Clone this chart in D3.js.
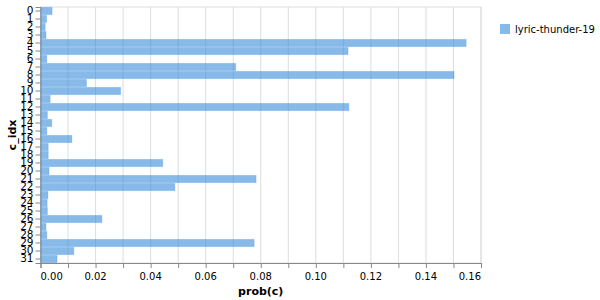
<!DOCTYPE html>
<html>
<head>
<meta charset="utf-8">
<script src="https://cdn.jsdelivr.net/npm/d3@7"></script>
<style>
  body { margin: 0; background: #fff; }
  svg { font-family: "DejaVu Sans", sans-serif; }
</style>
</head>
<body>
<script>
// Chart size and margins
const width = 600;
const height = 300;
const margin = { top: 7, right: 119, bottom: 37, left: 40.5 };

// Data
const categories = d3.range(32).map(String);
const probs = [
  0.0042, 0.0022, 0.0017, 0.0020, 0.1546, 0.1117, 0.0023, 0.0709,
  0.1502, 0.0167, 0.0291, 0.0035, 0.1120, 0.0025, 0.0041, 0.0023,
  0.0114, 0.0028, 0.0028, 0.0444, 0.0031, 0.0783, 0.0488, 0.0027,
  0.0024, 0.0025, 0.0223, 0.0020, 0.0023, 0.0776, 0.0121, 0.0060
];
const xTicks = [0, 0.02, 0.04, 0.06, 0.08, 0.10, 0.12, 0.14, 0.16];
const seriesName = 'lyric-thunder-19';
const barColor = 'rgb(55, 138, 218)';

const data = categories.map((c, i) => ({ c_idx: c, prob: probs[i] }));

const svg = d3.select('body')
  .append('svg')
  .attr('width', width)
  .attr('height', height);

const x = d3.scaleLinear()
  .domain([0, 0.16])
  .range([margin.left, width - margin.right]);

const y = d3.scaleBand()
  .domain(categories)
  .range([margin.top, height - margin.bottom])
  .paddingInner(0.1)
  .paddingOuter(0.05);

// grid lines every 0.01
svg.append('g')
  .selectAll('line')
  .data(d3.range(0, 0.1601, 0.01))
  .enter()
  .append('line')
  .attr('x1', d => x(d))
  .attr('x2', d => x(d))
  .attr('y1', margin.top)
  .attr('y2', height - margin.bottom)
  .attr('stroke', '#ddd');

// view border
svg.append('rect')
  .attr('x', x(0))
  .attr('y', margin.top)
  .attr('width', x(0.16) - x(0))
  .attr('height', height - margin.bottom - margin.top)
  .attr('fill', 'none')
  .attr('stroke', '#ddd');

// bars (semi-transparent so the grid shows through)
svg.append('g')
  .selectAll('rect')
  .data(data)
  .enter()
  .append('rect')
  .attr('x', x(0))
  .attr('y', d => y(d.c_idx))
  .attr('width', d => x(d.prob) - x(0))
  .attr('height', y.bandwidth())
  .attr('fill', barColor)
  .attr('fill-opacity', 0.6)
  .attr('stroke', barColor)
  .attr('stroke-opacity', 0.25)
  .attr('stroke-width', 1);

// x axis
const xAxis = svg.append('g')
  .attr('transform', `translate(0, ${height - margin.bottom})`)
  .call(d3.axisBottom(x).tickValues(d3.range(0, 0.1601, 0.01)).tickSize(5).tickFormat(''));
xAxis.selectAll('path, line').attr('stroke', '#888');

svg.append('g')
  .selectAll('text')
  .data(xTicks)
  .enter()
  .append('text')
  .attr('x', d => x(d))
  .attr('y', height - margin.bottom + 17)
  .attr('text-anchor', (d, i) => i === 0 ? 'start' : (i === xTicks.length - 1 ? 'end' : 'middle'))
  .attr('font-size', 10)
  .attr('fill', '#000')
  .text(d => d3.format('.2f')(d));

// y axis
const yAxis = svg.append('g')
  .attr('transform', `translate(${margin.left}, 0)`)
  .call(d3.axisLeft(y).tickSize(5).tickPadding(2));
yAxis.selectAll('path, line').attr('stroke', '#888');
yAxis.selectAll('text')
  .attr('font-size', 10.5)
  .attr('font-family', 'DejaVu Sans')
  .attr('fill', '#000');

// axis titles
svg.append('text')
  .attr('x', (x(0) + x(0.16)) / 2)
  .attr('y', 295)
  .attr('text-anchor', 'middle')
  .attr('font-size', 11)
  .attr('font-weight', 'bold')
  .text('prob(c)');

svg.append('text')
  .attr('transform', `translate(16, ${(margin.top + height - margin.bottom) / 2}) rotate(-90)`)
  .attr('text-anchor', 'middle')
  .attr('font-size', 11)
  .attr('font-weight', 'bold')
  .text('c_idx');

// legend
const legend = svg.append('g').attr('transform', 'translate(500, 24)');
legend.append('rect')
  .attr('width', 10)
  .attr('height', 10)
  .attr('fill', barColor)
  .attr('fill-opacity', 0.6);
legend.append('text')
  .attr('x', 15)
  .attr('y', 8.5)
  .attr('font-size', 10)
  .text(seriesName);
</script>
</body>
</html>
